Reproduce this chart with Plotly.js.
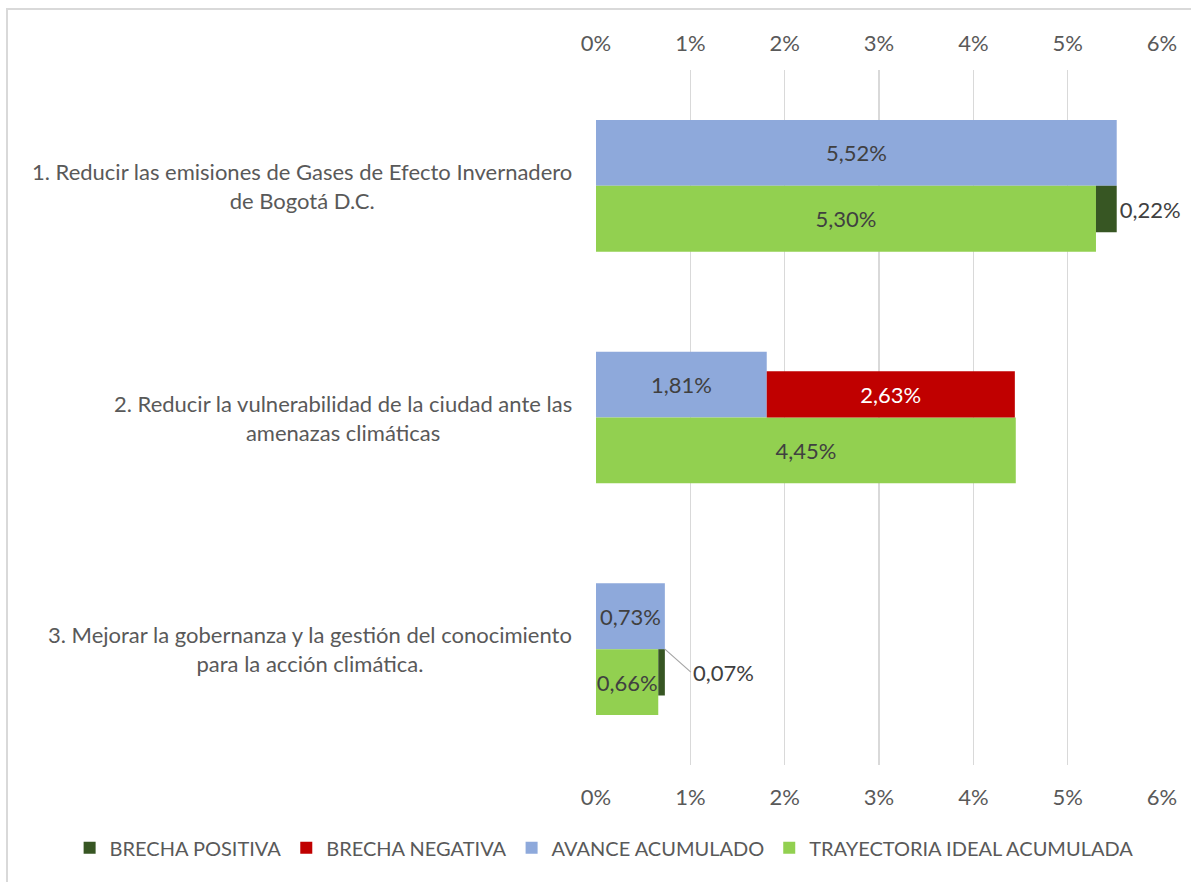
<!DOCTYPE html>
<html>
<head>
<meta charset="utf-8">
<script src="https://cdn.plot.ly/plotly-3.0.1.min.js"></script>
<style>
  html, body { margin: 0; padding: 0; background: #ffffff; }
  #frame { position: absolute; left: 6px; top: 8px; width: 1185px; height: 874px;
           border-left: 2px solid #d9d9d9; border-top: 2px solid #d9d9d9; box-sizing: border-box; }
  #chart { position: absolute; left: 0; top: 0; width: 1191px; height: 882px; }
</style>
</head>
<body>
<div id="frame"></div>
<div id="chart"></div>
<script>
// ---- data ----
const categories = [
  "1. Reducir las emisiones de Gases de Efecto Invernadero<br>de Bogotá D.C.",
  "2. Reducir la vulnerabilidad de la ciudad ante las<br>amenazas climáticas",
  "3. Mejorar la gobernanza y la gestión del conocimiento<br>para la acción climática."
];
const avanceAcumulado = [5.52, 1.81, 0.73];
const trayectoriaIdeal = [5.30, 4.45, 0.66];
const brechaPositiva = [0.22, null, 0.07];
const brechaNegativa = [null, 2.63, null];
const xTickVals = [0, 1, 2, 3, 4, 5, 6];
const xTickText = ["0%", "1%", "2%", "3%", "4%", "5%", "6%"];

// bases for the gap bars
const basePositiva = brechaPositiva.map((v, i) => v == null ? null : trayectoriaIdeal[i]);
const baseNegativa = brechaNegativa.map((v, i) => v == null ? null : avanceAcumulado[i]);

const fmt = v => v == null ? "" : v.toFixed(2).replace(".", ",") + "%";

const FONT = "Lato, 'Open Sans', sans-serif";
const GRAY = "#595959";
const LABEL = "#404040";
const WIDE = 0.284, NARROW = 0.2;
const FS = 22;

const traces = [
  {
    type: "bar", orientation: "h", name: "AVANCE ACUMULADO",
    y: categories, x: avanceAcumulado, offset: -WIDE, width: WIDE,
    marker: { color: "#8EA9DB" },
    text: avanceAcumulado.map(fmt), textposition: "inside", insidetextanchor: "middle",
    constraintext: "none", textangle: 0,
    insidetextfont: { family: FONT, size: FS, color: LABEL },
    legendrank: 3, hoverinfo: "skip"
  },
  {
    type: "bar", orientation: "h", name: "TRAYECTORIA IDEAL ACUMULADA",
    y: categories, x: trayectoriaIdeal, offset: 0, width: WIDE,
    marker: { color: "#92D050" },
    text: trayectoriaIdeal.map(fmt), textposition: "inside", insidetextanchor: "middle",
    constraintext: "none", textangle: 0,
    insidetextfont: { family: FONT, size: FS, color: LABEL },
    legendrank: 4, hoverinfo: "skip"
  },
  {
    type: "bar", orientation: "h", name: "BRECHA POSITIVA",
    y: categories, x: brechaPositiva, base: basePositiva, offset: 0, width: NARROW,
    marker: { color: "#375623" },
    text: brechaPositiva.map(v => (v != null && v >= 0.1) ? fmt(v) : ""),
    textposition: "outside", constraintext: "none", textangle: 0, cliponaxis: false,
    outsidetextfont: { family: FONT, size: FS, color: LABEL },
    legendrank: 1, hoverinfo: "skip"
  },
  {
    type: "bar", orientation: "h", name: "BRECHA NEGATIVA",
    y: categories, x: brechaNegativa, base: baseNegativa, offset: -NARROW, width: NARROW,
    marker: { color: "#C00000" },
    text: brechaNegativa.map(fmt), textposition: "inside", insidetextanchor: "middle",
    constraintext: "none", textangle: 0,
    insidetextfont: { family: FONT, size: FS, color: "#ffffff" },
    legendrank: 2, hoverinfo: "skip"
  }
];

// category labels (centered multi-line, right aligned block)
const annotations = categories.map(c => ({
  xref: "paper", yref: "y", x: 0, y: c, xanchor: "right", yanchor: "middle",
  xshift: -22, align: "center", showarrow: false, text: c,
  font: { family: FONT, size: FS, color: GRAY }
}));
// small positive gap labels with leader line
brechaPositiva.forEach((v, i) => {
  if (v != null && v < 0.1) {
    annotations.push({
      xref: "x", yref: "y", x: basePositiva[i] + v, y: i,
      text: fmt(v), showarrow: true, arrowhead: 0, arrowwidth: 1.2, arrowcolor: "#a6a6a6",
      ax: 26, ay: 23, xanchor: "left", yanchor: "middle", standoff: 0,
      font: { family: FONT, size: FS, color: LABEL }
    });
  }
});

const axisCommon = {
  range: [0, 6], tickmode: "array", tickvals: xTickVals, ticktext: xTickText,
  showgrid: true, gridcolor: "#d9d9d9", gridwidth: 1.5, zeroline: false,
  showline: false, ticks: "", tickfont: { family: FONT, size: FS, color: GRAY },
  fixedrange: true
};

const layout = {
  width: 1191, height: 882,
  margin: { l: 596, r: 29, t: 70, b: 117 },
  paper_bgcolor: "rgba(0,0,0,0)", plot_bgcolor: "rgba(0,0,0,0)",
  separators: ",.",
  barmode: "overlay",
  showlegend: true,
  font: { family: FONT, color: GRAY },
  xaxis: Object.assign({}, axisCommon, { side: "bottom", ticklabelstandoff: 17 }),
  xaxis2: Object.assign({}, axisCommon, { side: "top", overlaying: "x", matches: "x", showgrid: false, ticklabelstandoff: 14 }),
  yaxis: {
    type: "category", categoryorder: "array", categoryarray: categories,
    range: [2.5, -0.5], showticklabels: false, showgrid: false, zeroline: false, showline: false, ticks: ""
  },
  legend: {
    orientation: "h", xref: "paper", yref: "paper",
    x: -0.93, xanchor: "left", y: -0.119, yanchor: "middle",
    font: { family: FONT, size: 20, color: GRAY }, traceorder: "normal",
    itemwidth: 30
  },
  annotations: annotations
};

// invisible trace to anchor the top axis
traces.push({ type: "scatter", x: [0, 6], y: [categories[0], categories[0]], xaxis: "x2", yaxis: "y",
  mode: "none", showlegend: false, hoverinfo: "skip" });

Plotly.newPlot("chart", traces, layout, { displayModeBar: false, staticPlot: true });
</script>
</body>
</html>
